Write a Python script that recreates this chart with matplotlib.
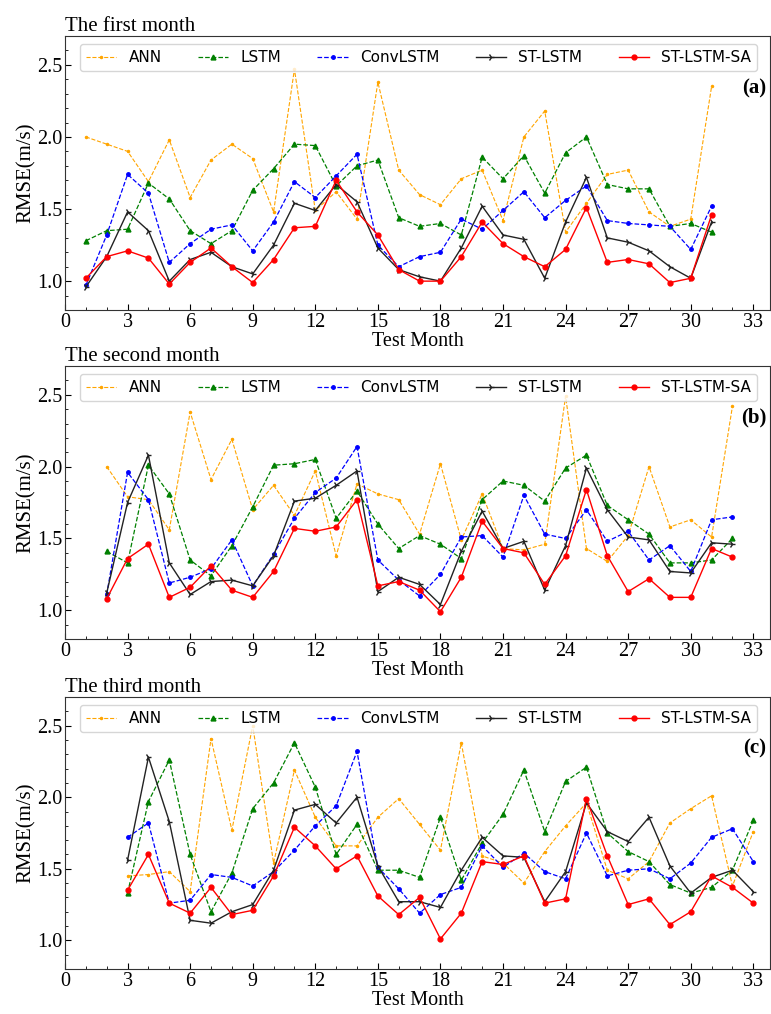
import numpy as np
import matplotlib
matplotlib.use("Agg")
import matplotlib.pyplot as plt
from matplotlib.ticker import MultipleLocator

plt.rcParams['font.family'] = ['Liberation Serif', 'DejaVu Serif']
plt.rcParams['xtick.direction'] = 'in'
plt.rcParams['ytick.direction'] = 'in'

models = ["ANN", "LSTM", "ConvLSTM", "ST-LSTM", "ST-LSTM-SA"]
titles = ["The first month", "The second month", "The third month"]
panel_tags = ["(a)", "(b)", "(c)"]
x_starts = [1, 2, 3]

# panel (a): test months 1..31
ann_a = [2.00, 1.95, 1.90, 1.69, 1.98, 1.58, 1.84, 1.95, 1.85, 1.48, 2.47, 1.49, 1.62, 1.43, 2.38, 1.77,
         1.60, 1.53, 1.71, 1.77, 1.42, 2.00, 2.18, 1.34, 1.54, 1.74, 1.77, 1.48, 1.38, 1.43, 2.35]
lstm_a = [1.28, 1.35, 1.36, 1.68, 1.57, 1.35, 1.26, 1.35, 1.63, 1.78, 1.95, 1.94, 1.66, 1.80, 1.84, 1.44,
          1.38, 1.40, 1.32, 1.86, 1.71, 1.87, 1.61, 1.89, 2.00, 1.67, 1.64, 1.64, 1.38, 1.40, 1.34]
conv_a = [0.97, 1.32, 1.74, 1.61, 1.13, 1.26, 1.36, 1.39, 1.21, 1.41, 1.69, 1.58, 1.73, 1.88, 1.25, 1.10,
          1.17, 1.20, 1.43, 1.36, 1.49, 1.62, 1.44, 1.56, 1.66, 1.42, 1.40, 1.39, 1.38, 1.22, 1.52]
st_a = [0.96, 1.17, 1.48, 1.35, 1.00, 1.15, 1.20, 1.10, 1.05, 1.25, 1.54, 1.49, 1.67, 1.55, 1.23, 1.08,
        1.03, 1.00, 1.23, 1.52, 1.32, 1.29, 1.02, 1.41, 1.72, 1.30, 1.27, 1.21, 1.10, 1.02, 1.41]
sa_a = [1.02, 1.17, 1.21, 1.16, 0.98, 1.13, 1.23, 1.10, 0.99, 1.15, 1.37, 1.38, 1.70, 1.48, 1.32, 1.08,
        1.00, 1.00, 1.17, 1.41, 1.26, 1.17, 1.10, 1.22, 1.51, 1.13, 1.15, 1.12, 0.99, 1.02, 1.46]

# panel (b): test months 2..32
ann_b = [2.00, 1.79, 1.77, 1.56, 2.38, 1.91, 2.19, 1.70, 1.87, 1.66, 1.97, 1.38, 1.88, 1.81, 1.77, 1.53,
         2.02, 1.49, 1.81, 1.43, 1.42, 1.46, 2.49, 1.43, 1.34, 1.52, 2.00, 1.58, 1.63, 1.51, 2.42]
lstm_b = [1.41, 1.33, 2.01, 1.81, 1.35, 1.24, 1.45, 1.72, 2.01, 2.02, 2.05, 1.64, 1.83, 1.60, 1.43, 1.52,
          1.46, 1.36, 1.77, 1.90, 1.87, 1.76, 1.99, 2.08, 1.73, 1.63, 1.53, 1.33, 1.33, 1.35, 1.50]
conv_b = [1.11, 1.96, 1.77, 1.19, 1.23, 1.29, 1.49, 1.17, 1.39, 1.64, 1.82, 1.92, 2.14, 1.35, 1.21, 1.10,
          1.25, 1.51, 1.52, 1.37, 1.80, 1.53, 1.50, 1.70, 1.48, 1.55, 1.35, 1.45, 1.27, 1.63, 1.65]
st_b = [1.12, 1.75, 2.08, 1.33, 1.11, 1.20, 1.21, 1.17, 1.38, 1.76, 1.78, 1.87, 1.97, 1.13, 1.23, 1.18,
        1.04, 1.41, 1.69, 1.43, 1.48, 1.14, 1.45, 1.99, 1.70, 1.51, 1.49, 1.27, 1.26, 1.47, 1.46]
sa_b = [1.08, 1.36, 1.46, 1.09, 1.16, 1.31, 1.14, 1.09, 1.27, 1.57, 1.55, 1.58, 1.77, 1.17, 1.20, 1.14,
        0.99, 1.23, 1.62, 1.43, 1.40, 1.18, 1.38, 1.84, 1.38, 1.13, 1.22, 1.09, 1.09, 1.43, 1.37]

# panel (c): test months 3..33
ann_c = [1.45, 1.46, 1.48, 1.34, 2.41, 1.77, 2.50, 1.54, 2.19, 1.86, 1.66, 1.66, 1.86, 1.99, 1.81, 1.63,
         2.38, 1.59, 1.54, 1.40, 1.62, 1.80, 1.96, 1.49, 1.43, 1.55, 1.82, 1.92, 2.01, 1.38, 1.76]
lstm_c = [1.33, 1.97, 2.26, 1.60, 1.20, 1.47, 1.92, 2.10, 2.38, 2.07, 1.60, 1.81, 1.49, 1.49, 1.44, 1.86,
          1.42, 1.68, 1.88, 2.19, 1.76, 2.11, 2.21, 1.75, 1.62, 1.55, 1.39, 1.33, 1.37, 1.49, 1.84]
conv_c = [1.72, 1.82, 1.26, 1.28, 1.46, 1.44, 1.38, 1.48, 1.63, 1.80, 1.94, 2.32, 1.51, 1.36, 1.19, 1.32,
          1.37, 1.66, 1.51, 1.61, 1.48, 1.43, 1.75, 1.45, 1.49, 1.50, 1.43, 1.54, 1.72, 1.78, 1.55]
st_c = [1.56, 2.28, 1.83, 1.14, 1.12, 1.20, 1.25, 1.49, 1.91, 1.95, 1.82, 2.00, 1.52, 1.27, 1.27, 1.23,
        1.49, 1.72, 1.59, 1.58, 1.27, 1.48, 1.96, 1.76, 1.69, 1.86, 1.52, 1.33, 1.44, 1.49, 1.34]
sa_c = [1.35, 1.60, 1.26, 1.19, 1.37, 1.18, 1.21, 1.45, 1.79, 1.66, 1.50, 1.59, 1.31, 1.18, 1.30, 1.01,
        1.19, 1.55, 1.53, 1.59, 1.26, 1.29, 1.99, 1.59, 1.25, 1.29, 1.11, 1.20, 1.45, 1.37, 1.26]

panels = [
    [ann_a, lstm_a, conv_a, st_a, sa_a],
    [ann_b, lstm_b, conv_b, st_b, sa_b],
    [ann_c, lstm_c, conv_c, st_c, sa_c],
]

styles = [
    dict(color='orange', linestyle='--', marker='.', markersize=3, linewidth=0.8),
    dict(color='green', linestyle='--', marker='^', markersize=3.5, linewidth=0.9),
    dict(color='blue', linestyle='--', marker='o', markersize=2.5, linewidth=0.9),
    dict(color='#222222', linestyle='-', marker='4', markersize=5, linewidth=1.0),
    dict(color='red', linestyle='-', marker='o', markersize=3.5, linewidth=1.0),
]

fig = plt.figure(figsize=(7.71, 10.14), dpi=100)
boxes = [(0.0843, 0.6943, 0.9144, 0.2702),
         (0.0843, 0.3698, 0.9144, 0.2692),
         (0.0843, 0.0444, 0.9144, 0.2682)]

for i in range(3):
    ax = fig.add_axes(boxes[i])
    series = panels[i]
    x = np.arange(x_starts[i], x_starts[i] + len(series[0]))
    for name, vals, st in zip(models, series, styles):
        ax.plot(x, vals, label=name, **st)

    ax.set_xlim(0, 33.8)
    ax.set_ylim(0.8, 2.7)
    ax.set_xticks(np.arange(0, 34, 3))
    ax.set_yticks([1.0, 1.5, 2.0, 2.5])
    ax.xaxis.set_minor_locator(MultipleLocator(1))
    ax.yaxis.set_minor_locator(MultipleLocator(0.1))
    ax.tick_params(axis='both', which='major', labelsize=14.5, length=4, width=0.8, pad=2)
    ax.tick_params(axis='both', which='minor', length=2, width=0.6)
    for sp in ax.spines.values():
        sp.set_color('#333333')
    ax.set_ylabel("RMSE(m/s)", fontsize=15, labelpad=1)
    ax.set_xlabel("Test Month", fontsize=14.5, labelpad=0)
    ax.set_title(titles[i], loc='left', fontsize=15, pad=2)
    ax.text(0.995, 0.81, panel_tags[i], transform=ax.transAxes, ha='right', va='center',
            fontsize=15, fontweight='bold')

    leg = ax.legend(loc='upper left', bbox_to_anchor=(0.021, 0.0, 0.961, 0.971), mode='expand',
                    borderaxespad=0, ncol=5, prop={'family': 'DejaVu Sans', 'size': 11},
                    handlelength=2.0, borderpad=0.4, frameon=True, fancybox=True)
    leg.get_frame().set_edgecolor('#cccccc')

fig.savefig("out.png", dpi=100)
